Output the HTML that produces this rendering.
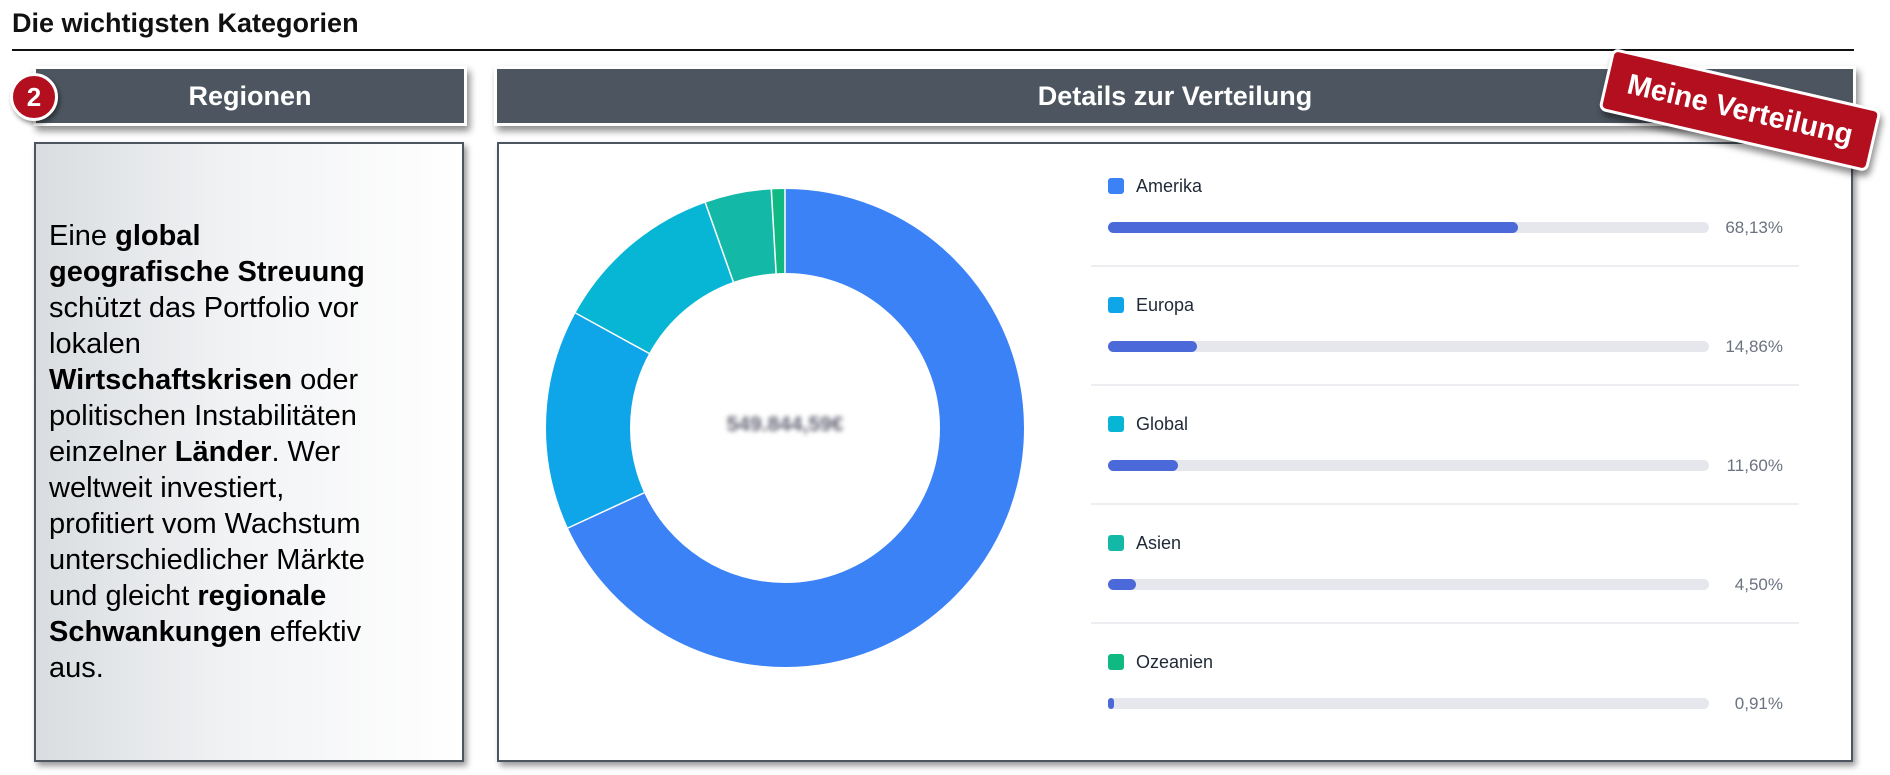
<!DOCTYPE html>
<html><head><meta charset="utf-8"><style>
*{margin:0;padding:0;box-sizing:border-box}
body{width:1890px;height:775px;background:#fff;position:relative;overflow:hidden;font-family:"Liberation Sans",Arial,sans-serif}
.abs{position:absolute}
.hdr{background:#4d5660;border:3px solid #fff;box-shadow:3px 5px 7px rgba(0,0,0,.45);color:#fff;font-weight:bold;font-size:27px;display:flex;align-items:center;justify-content:center}
.box{border:2px solid #4d5660;box-shadow:3px 4px 6px rgba(0,0,0,.4)}
.lbl{font-size:18px;color:#1f2937}
.pct{font-size:17px;color:#6b7280;text-align:right;width:80px}
.bar{height:11px;border-radius:6px;background:#e6e7ec}
.fill{height:11px;border-radius:6px;background:#4b69d9}
.sq{width:16px;height:16px;border-radius:3px}
.sep{height:2px;background:#eceef1}
</style></head><body>
<div class="abs" style="left:12px;top:8px;font-size:27px;font-weight:bold;color:#111">Die wichtigsten Kategorien</div>
<div class="abs" style="left:12px;top:49px;width:1842px;height:2px;background:#111"></div>

<div class="abs hdr" style="left:33px;top:66px;width:434px;height:60px">Regionen</div>
<div class="abs" style="left:10px;top:73px;width:48px;height:48px;border-radius:50%;background:#b30f1f;border:3px solid #fff;box-shadow:2px 3px 5px rgba(0,0,0,.45);color:#fff;font-weight:bold;font-size:26px;display:flex;align-items:center;justify-content:center">2</div>
<div class="abs hdr" style="left:494px;top:66px;width:1362px;height:60px">Details zur Verteilung</div>

<div class="abs box" style="left:34px;top:142px;width:430px;height:620px;background:linear-gradient(90deg,#d9dde0 0%,#f1f2f4 45%,#fff 100%)"></div>
<div class="abs" style="left:49px;top:218px;width:410px;font-size:29px;line-height:36px;color:#000;white-space:nowrap">Eine <b>global</b><br><b>geografische Streuung</b><br>schützt das Portfolio vor<br>lokalen<br><b>Wirtschaftskrisen</b> oder<br>politischen Instabilitäten<br>einzelner <b>Länder</b>. Wer<br>weltweit investiert,<br>profitiert vom Wachstum<br>unterschiedlicher Märkte<br>und gleicht <b>regionale</b><br><b>Schwankungen</b> effektiv<br>aus.</div>

<div class="abs box" style="left:497px;top:142px;width:1356px;height:620px;background:#fff"></div>

<svg class="abs" style="left:0;top:0" width="1890" height="775">
<g transform="rotate(-90 785 428)" fill="none" stroke-width="84">
<circle cx="785" cy="428" r="197" stroke="#3b82f6" stroke-dasharray="843.3 2000" stroke-dashoffset="0"/>
<circle cx="785" cy="428" r="197" stroke="#0ea5e9" stroke-dasharray="183.9 2000" stroke-dashoffset="-843.3"/>
<circle cx="785" cy="428" r="197" stroke="#06b6d4" stroke-dasharray="143.6 2000" stroke-dashoffset="-1027.2"/>
<circle cx="785" cy="428" r="197" stroke="#14b8a6" stroke-dasharray="55.7 2000" stroke-dashoffset="-1170.8"/>
<circle cx="785" cy="428" r="197" stroke="#10b981" stroke-dasharray="11.3 2000" stroke-dashoffset="-1226.5"/>
</g>
<g stroke="#fff" stroke-width="1.5">
<line x1="644.2" y1="492.8" x2="567.9" y2="528"/>
<line x1="649.1" y1="353.4" x2="575.5" y2="313"/>
<line x1="733.3" y1="281.9" x2="705.3" y2="202.7"/>
<line x1="776.1" y1="273.3" x2="771.3" y2="189.4"/>
<line x1="785" y1="273" x2="785" y2="189"/>
</g>
</svg>
<div class="abs" style="left:700px;top:413px;width:170px;text-align:center;font-size:21px;font-weight:bold;color:#667;filter:blur(2.5px)">549.844,59€</div>

<div class="abs sq" style="left:1108px;top:178px;background:#3b82f6"></div>
<div class="abs lbl" style="left:1136px;top:176px">Amerika</div>
<div class="abs bar" style="left:1108px;top:222px;width:601px"><div class="fill" style="width:410px"></div></div>
<div class="abs pct" style="left:1703px;top:218px">68,13%</div>
<div class="abs sep" style="left:1091px;top:265px;width:708px"></div>

<div class="abs sq" style="left:1108px;top:297px;background:#0ea5e9"></div>
<div class="abs lbl" style="left:1136px;top:295px">Europa</div>
<div class="abs bar" style="left:1108px;top:341px;width:601px"><div class="fill" style="width:89px"></div></div>
<div class="abs pct" style="left:1703px;top:337px">14,86%</div>
<div class="abs sep" style="left:1091px;top:384px;width:708px"></div>

<div class="abs sq" style="left:1108px;top:416px;background:#06b6d4"></div>
<div class="abs lbl" style="left:1136px;top:414px">Global</div>
<div class="abs bar" style="left:1108px;top:460px;width:601px"><div class="fill" style="width:70px"></div></div>
<div class="abs pct" style="left:1703px;top:456px">11,60%</div>
<div class="abs sep" style="left:1091px;top:503px;width:708px"></div>

<div class="abs sq" style="left:1108px;top:535px;background:#14b8a6"></div>
<div class="abs lbl" style="left:1136px;top:533px">Asien</div>
<div class="abs bar" style="left:1108px;top:579px;width:601px"><div class="fill" style="width:28px"></div></div>
<div class="abs pct" style="left:1703px;top:575px">4,50%</div>
<div class="abs sep" style="left:1091px;top:622px;width:708px"></div>

<div class="abs sq" style="left:1108px;top:654px;background:#10b981"></div>
<div class="abs lbl" style="left:1136px;top:652px">Ozeanien</div>
<div class="abs bar" style="left:1108px;top:698px;width:601px"><div class="fill" style="width:6px"></div></div>
<div class="abs pct" style="left:1703px;top:694px">0,91%</div>

<div class="abs" style="left:1602px;top:78px;width:276px;height:64px;transform:rotate(13deg);background:#b30f1f;border:3px solid #fff;border-radius:7px;box-shadow:3px 5px 7px rgba(0,0,0,.45);color:#fff;font-weight:bold;font-size:29px;display:flex;align-items:center;justify-content:center">Meine Verteilung</div>
</body></html>
